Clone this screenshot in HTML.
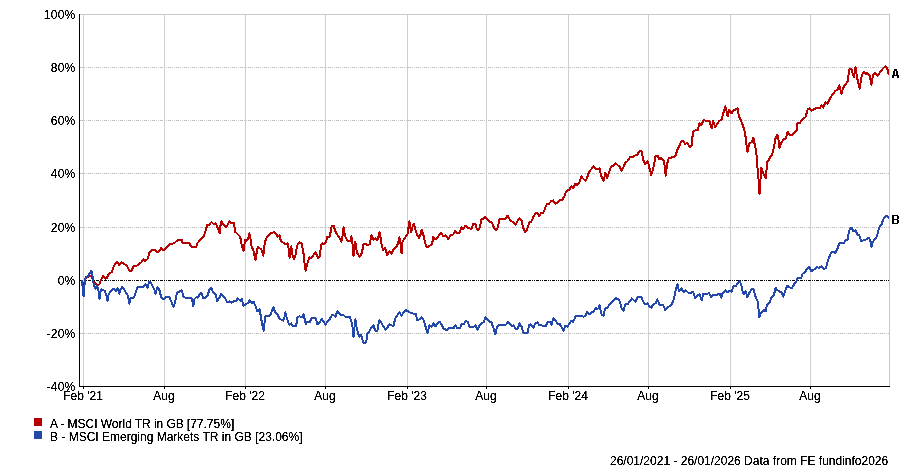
<!DOCTYPE html><html><head><meta charset="utf-8"><title>Chart</title><style>
html,body{margin:0;padding:0;background:#fff;}
body{width:900px;height:467px;position:relative;overflow:hidden;font-family:"Liberation Sans",sans-serif;font-size:12px;color:#000;}
.t{position:absolute;white-space:nowrap;line-height:14px;height:14px;}
.yl{left:0;width:75.6px;text-align:right;letter-spacing:0.3px;}
.xl{width:80px;text-align:center;top:389px;}
.sq{position:absolute;width:8px;height:8px;left:34px;}

</style></head><body>
<svg width="900" height="467" viewBox="0 0 900 467" style="position:absolute;left:0;top:0">
<g shape-rendering="crispEdges" fill="none">
<path d="M80 14.5H889.5V386" stroke="#c8c8c8" stroke-width="1"/>
<path d="M83.5 15V386" stroke="#cfcfcf" stroke-width="1"/>
<path d="M164.5 15V386" stroke="#cfcfcf" stroke-width="1"/>
<path d="M245.5 15V386" stroke="#cfcfcf" stroke-width="1"/>
<path d="M325.5 15V386" stroke="#cfcfcf" stroke-width="1"/>
<path d="M407.5 15V386" stroke="#cfcfcf" stroke-width="1"/>
<path d="M486.5 15V386" stroke="#cfcfcf" stroke-width="1"/>
<path d="M568.5 15V386" stroke="#cfcfcf" stroke-width="1"/>
<path d="M648.5 15V386" stroke="#cfcfcf" stroke-width="1"/>
<path d="M730.5 15V386" stroke="#cfcfcf" stroke-width="1"/>
<path d="M810.5 15V386" stroke="#cfcfcf" stroke-width="1"/>
<path d="M80 67.5H889" stroke="#c4c4c4" stroke-width="1" stroke-dasharray="3 1 1 1 1 1"/>
<path d="M80 120.5H889" stroke="#c4c4c4" stroke-width="1" stroke-dasharray="3 1 1 1 1 1"/>
<path d="M80 173.5H889" stroke="#c4c4c4" stroke-width="1" stroke-dasharray="3 1 1 1 1 1"/>
<path d="M80 227.5H889" stroke="#c4c4c4" stroke-width="1" stroke-dasharray="3 1 1 1 1 1"/>
<path d="M80 280.5H889" stroke="#000" stroke-width="1" stroke-dasharray="3 1 1 1 1 1"/>
<path d="M80 333.5H889" stroke="#c4c4c4" stroke-width="1" stroke-dasharray="3 1 1 1 1 1"/>
<path d="M79.5 14V387" stroke="#000" stroke-width="1"/>
<path d="M79 386.5H890" stroke="#000" stroke-width="1"/>
<path d="M83.5 387V389" stroke="#000" stroke-width="1"/>
<path d="M164.5 387V389" stroke="#000" stroke-width="1"/>
<path d="M245.5 387V389" stroke="#000" stroke-width="1"/>
<path d="M325.5 387V389" stroke="#000" stroke-width="1"/>
<path d="M407.5 387V389" stroke="#000" stroke-width="1"/>
<path d="M486.5 387V389" stroke="#000" stroke-width="1"/>
<path d="M568.5 387V389" stroke="#000" stroke-width="1"/>
<path d="M648.5 387V389" stroke="#000" stroke-width="1"/>
<path d="M730.5 387V389" stroke="#000" stroke-width="1"/>
<path d="M810.5 387V389" stroke="#000" stroke-width="1"/>
</g>
<polyline points="83.1,284.9 84.0,284.5 85.7,278.1 90.2,275.9 91.2,276.4 94.1,282.6 97.3,285.4 99.2,284.5 101.8,278.1 103.3,275.9 105.2,278.7 106.9,278.1 108.8,273.6 111.7,272.3 114.0,265.8 117.2,261.6 119.4,265.2 121.7,262.4 126.8,265.8 129.4,270.7 131.7,270.7 133.5,266.1 137.1,265.6 141.0,262.6 143.3,259.4 145.1,260.7 147.4,259.4 149.3,253.0 151.9,250.2 155.1,250.4 157.7,252.4 161.3,248.1 163.9,250.4 169.9,244.0 173.8,243.4 178.0,239.9 181.7,239.5 182.8,243.4 189.5,243.4 191.2,246.7 196.2,246.7 197.3,243.4 200.6,239.2 204.0,235.8 206.2,228.9 207.3,224.5 209.0,225.0 211.4,222.0 213.4,223.9 215.7,223.4 217.9,228.4 219.6,233.4 220.3,226.7 221.4,221.1 223.5,224.5 225.7,226.9 227.3,225.6 229.4,221.1 231.2,222.8 234.0,223.1 235.1,231.7 240.2,236.7 241.8,245.6 243.5,250.6 245.2,239.5 246.8,240.6 248.0,239.5 249.4,233.4 250.4,237.8 251.0,244.5 253.5,251.2 255.5,259.6 256.3,254.5 257.8,247.0 260.8,249.0 262.0,250.6 263.3,255.6 264.8,242.3 267.0,236.7 269.8,233.9 273.7,232.2 275.9,233.4 277.6,236.7 279.6,235.0 280.9,241.2 285.9,244.5 287.8,243.4 288.7,249.0 289.6,257.9 291.3,246.2 292.1,253.4 293.7,259.0 295.4,255.6 297.1,245.6 299.3,242.3 301.5,243.4 303.4,252.3 304.3,261.2 305.7,270.7 307.1,264.5 309.3,257.3 311.0,258.4 315.5,252.3 316.6,254.5 317.7,257.9 319.9,256.2 321.0,244.5 322.1,243.4 323.8,243.9 326.0,242.3 327.1,236.7 328.8,237.3 329.9,236.1 331.6,226.1 333.8,226.1 335.5,231.7 340.0,238.9 341.4,241.7 342.4,236.7 343.6,227.2 345.0,235.6 347.2,240.6 350.5,240.6 351.4,236.1 352.4,242.3 353.5,255.6 354.0,249.9 355.3,242.1 356.8,252.1 359.6,257.1 361.8,253.2 363.5,244.3 365.1,243.7 367.4,245.4 369.6,244.3 371.5,234.8 373.5,239.8 375.7,238.2 377.4,240.4 379.6,232.0 380.7,238.7 381.8,245.4 383.2,250.4 385.2,248.2 387.2,254.9 389.4,251.0 391.3,253.8 393.5,249.3 396.9,246.0 398.3,242.6 399.4,237.1 400.5,244.3 401.6,253.2 402.4,242.1 404.7,238.2 407.5,234.3 408.6,226.5 409.5,221.5 410.2,227.6 411.3,232.0 412.5,227.0 413.6,223.7 415.2,228.7 416.9,234.3 419.1,238.2 420.3,235.4 421.6,229.8 423.6,235.9 425.8,245.4 427.5,247.1 432.0,244.3 433.3,237.1 435.3,239.3 437.5,237.6 439.5,234.3 441.4,232.9 443.1,235.9 445.5,235.4 446.0,236.2 448.2,239.0 451.0,235.1 453.2,234.5 455.1,230.6 457.7,233.4 459.9,232.3 461.3,227.3 463.3,229.0 465.5,225.6 468.3,227.9 471.6,229.0 473.1,224.0 475.5,224.0 476.6,228.4 477.7,230.1 479.6,227.9 481.6,219.0 483.9,218.4 485.5,216.9 488.9,221.2 491.7,222.3 493.3,226.2 495.6,230.1 497.4,228.4 499.5,219.5 501.3,218.7 503.3,219.5 505.6,218.4 507.5,215.6 510.6,221.2 512.8,221.7 515.6,224.5 517.8,220.6 519.5,218.4 521.7,220.6 523.1,227.9 525.4,232.3 527.3,229.0 529.0,222.9 531.2,221.7 533.4,216.7 535.6,213.4 537.3,213.4 539.5,216.2 541.2,212.8 542.9,213.4 544.6,210.0 545.7,206.7 547.0,204.0 549.0,203.7 551.3,201.0 553.3,200.3 554.3,202.7 555.3,203.7 557.3,202.7 559.7,200.0 562.0,200.0 564.0,197.0 566.3,191.3 567.3,190.3 569.3,189.7 571.3,186.3 573.3,188.0 575.3,183.7 577.3,185.3 579.3,182.7 581.4,176.5 583.4,179.0 585.7,180.6 587.6,176.2 589.2,171.7 591.5,168.9 593.3,166.5 595.9,168.9 599.5,168.4 600.9,175.1 603.5,181.2 604.5,176.7 605.4,172.8 607.0,178.4 608.7,173.4 610.9,166.7 613.2,165.6 615.6,163.4 618.2,165.6 619.8,166.7 621.5,170.6 623.7,166.7 625.4,162.2 627.6,161.1 629.9,157.2 633.2,156.7 636.0,155.0 637.3,154.7 639.3,151.3 641.7,151.3 642.7,157.0 643.7,161.3 645.3,164.3 647.3,161.3 648.3,163.0 649.3,167.7 651.3,175.0 653.0,169.7 654.3,163.7 655.3,157.0 656.3,155.7 657.7,156.0 659.3,159.3 661.3,158.0 663.7,160.3 664.7,165.7 665.7,175.7 667.0,164.3 669.0,157.7 671.3,157.7 672.3,156.7 674.7,156.7 676.0,155.0 677.0,150.3 679.0,146.7 681.4,141.2 683.5,141.2 685.1,144.0 687.3,142.9 690.1,147.3 691.8,145.6 692.9,131.7 694.6,130.6 697.9,129.8 699.3,123.4 701.3,125.0 703.5,120.2 705.7,120.6 709.6,121.1 711.6,128.4 713.3,121.1 715.2,127.3 719.1,121.1 721.5,119.8 722.0,117.8 723.7,111.7 725.3,106.1 726.5,110.6 727.6,116.2 729.2,110.0 731.5,113.4 733.1,110.6 735.4,109.5 737.6,108.1 738.9,116.2 741.5,121.7 743.7,127.9 745.4,135.1 746.0,142.0 747.0,147.3 747.5,152.3 748.3,147.3 749.3,143.3 751.7,142.3 752.7,140.3 753.5,137.7 754.3,142.7 755.7,148.7 756.7,157.0 757.3,165.3 758.1,174.3 758.9,184.1 759.5,193.8 760.2,184.9 760.8,174.3 761.4,167.8 762.4,171.0 764.0,175.1 765.7,178.4 766.5,170.2 767.0,162.1 768.5,160.4 770.0,157.3 772.0,154.7 773.3,150.0 774.3,145.3 775.0,140.0 776.3,136.7 777.5,134.7 778.3,138.0 779.0,143.3 779.5,148.3 780.3,144.7 781.7,142.0 783.7,139.3 786.0,138.3 786.7,134.7 787.7,131.7 788.7,134.0 790.7,135.0 792.7,134.7 794.7,132.7 796.7,130.0 797.5,123.4 800.0,122.8 802.2,119.5 805.5,117.3 807.7,109.3 809.4,108.4 811.6,110.6 813.9,109.3 817.2,107.5 819.8,108.4 821.4,105.3 823.4,107.6 825.4,102.0 827.3,103.7 829.2,100.3 831.2,96.4 833.4,93.6 835.4,90.9 837.9,89.7 839.2,85.3 840.3,89.7 841.5,93.6 842.9,88.6 845.1,84.7 847.9,81.4 848.8,72.5 849.6,68.6 851.4,69.1 852.6,73.0 853.8,76.9 854.6,72.5 855.5,66.9 856.6,74.7 857.9,81.4 859.6,88.6 860.7,81.9 861.8,75.8 863.5,71.9 865.7,74.1 867.4,73.0 869.6,75.3 871.3,84.7 872.6,77.5 873.5,74.1 875.5,73.0 877.4,75.8 879.6,73.0 882.4,69.1 885.5,66.0 887.4,69.1 888.5,73.6" fill="none" stroke="#b60000" stroke-width="2" stroke-linejoin="round" stroke-linecap="round" shape-rendering="crispEdges"/>
<polyline points="81.9,280.4 82.5,285.4 83.6,296.5 84.1,288.7 85.6,277.0 87.5,276.5 91.4,270.9 92.3,273.1 93.0,280.9 94.7,287.1 95.8,288.7 96.9,285.9 97.8,287.6 98.6,291.0 99.5,298.7 100.3,292.1 101.4,289.3 104.7,291.0 106.4,295.4 107.5,301.0 108.6,294.3 110.3,291.5 113.6,288.9 115.9,291.0 117.5,288.5 118.6,291.0 119.4,293.7 120.5,289.3 122.0,287.1 123.7,288.2 125.9,292.6 128.1,296.0 129.4,303.8 130.3,299.3 131.7,297.6 133.1,298.2 134.2,296.5 135.9,292.1 137.8,286.5 143.1,286.7 145.4,284.3 147.6,287.6 149.3,281.5 150.2,281.5 152.1,285.4 154.3,289.3 155.6,293.7 157.3,287.4 159.3,289.8 161.0,296.5 162.1,298.7 164.3,298.7 166.0,297.1 169.3,297.1 171.5,302.1 173.5,307.1 174.9,303.2 176.6,294.3 178.0,291.5 179.5,291.7 181.5,290.0 183.4,296.2 185.6,298.1 191.2,297.8 192.3,300.6 193.4,306.2 194.5,298.9 196.2,297.3 197.8,297.8 199.5,294.5 201.2,292.8 203.4,298.4 205.6,297.8 207.9,295.0 209.2,289.5 211.4,287.8 212.9,292.3 215.7,294.5 217.3,301.2 219.6,297.3 221.4,293.9 224.6,297.3 227.3,302.3 229.6,301.5 231.2,302.6 234.0,301.2 236.8,300.6 237.6,298.2 240.2,300.6 241.8,298.9 243.5,305.6 246.3,304.2 248.5,302.3 249.6,300.1 251.8,302.8 253.7,301.7 255.7,306.7 257.4,311.2 259.6,309.5 260.8,316.2 262.2,324.5 263.6,330.6 264.8,320.6 265.6,315.9 270.0,315.6 271.7,311.7 273.4,307.2 275.0,311.7 277.8,315.0 279.7,318.9 283.4,320.6 284.5,316.7 285.4,312.3 286.5,316.7 288.4,322.8 289.7,324.8 291.2,323.4 292.9,326.0 296.2,326.0 297.3,317.3 299.5,316.2 301.8,317.3 303.4,314.2 304.6,318.9 305.7,324.0 307.3,321.7 309.6,322.3 311.8,318.2 315.7,318.2 317.4,324.5 319.6,322.8 321.6,318.9 323.5,321.2 325.5,324.8 327.4,321.7 329.6,319.5 331.8,315.3 333.5,315.0 335.4,316.7 337.4,311.1 340.2,314.5 343.5,315.0 345.2,316.7 349.7,316.7 351.5,321.9 352.8,328.1 353.5,337.0 354.2,329.2 355.4,319.2 356.5,327.0 358.1,333.6 359.5,337.0 360.9,335.3 362.0,337.5 363.1,342.5 366.2,342.5 367.3,333.6 369.3,331.4 371.3,327.5 373.5,325.3 375.1,330.3 377.3,331.4 378.4,324.2 379.5,320.3 381.5,323.1 383.7,327.0 385.8,329.7 387.6,327.5 389.3,324.2 391.5,325.3 393.5,326.4 395.1,318.6 397.1,315.8 399.3,312.3 401.6,315.6 403.6,312.3 405.8,310.0 408.2,311.4 411.0,313.0 413.8,313.8 415.8,314.1 417.4,320.3 419.4,319.2 421.6,317.2 423.8,320.3 425.5,326.4 427.4,333.1 429.4,325.3 431.6,327.0 433.6,323.4 435.5,326.4 437.4,323.1 439.7,321.9 441.7,324.7 443.3,328.6 445.6,329.4 447.0,330.3 449.5,327.9 453.9,327.9 455.4,325.1 456.9,327.9 460.0,327.9 461.7,324.2 463.9,324.0 465.8,321.2 467.8,321.7 469.5,326.7 473.4,327.0 475.6,325.3 477.5,330.1 479.0,326.2 481.2,323.4 483.7,322.3 485.4,317.3 487.9,319.7 489.6,321.5 491.4,322.3 493.2,327.3 495.3,334.5 496.8,327.3 499.0,324.5 502.4,324.8 506.3,324.5 507.6,321.7 509.6,324.0 511.8,326.2 513.5,325.3 515.7,329.0 518.0,328.4 519.3,323.4 521.8,326.7 523.0,332.6 527.4,332.9 529.1,325.1 530.4,324.2 533.5,327.9 535.2,323.4 537.4,322.3 539.1,324.8 540.0,324.8 541.5,325.1 543.1,326.2 545.9,326.0 547.6,322.0 549.6,321.7 551.5,324.5 553.4,318.4 555.4,320.1 557.8,324.2 559.6,323.8 561.8,327.3 563.5,331.2 565.2,325.6 567.4,326.8 569.3,324.0 571.2,320.9 573.0,321.7 574.1,320.1 575.4,316.2 577.7,316.0 581.6,316.0 583.8,316.7 585.5,315.3 587.3,311.7 589.3,314.5 591.6,312.3 593.6,311.7 595.5,307.8 597.1,308.9 598.5,308.4 599.6,305.0 600.5,310.1 601.6,314.5 603.5,315.6 604.9,308.9 607.2,307.8 610.0,303.9 612.7,301.1 615.7,298.1 618.3,299.5 620.0,301.7 621.3,307.8 623.5,310.6 625.3,304.5 627.8,303.9 630.0,301.1 632.0,298.4 633.5,300.1 635.4,301.7 637.9,296.7 641.3,296.7 643.5,302.3 645.7,304.5 647.6,303.4 649.4,306.5 651.3,307.6 653.5,304.0 655.7,303.4 657.4,299.5 659.4,304.5 663.0,305.1 665.4,310.1 666.9,307.9 669.7,306.2 671.9,304.0 673.9,299.0 675.4,291.2 677.5,284.5 679.1,291.2 681.3,288.4 683.6,292.3 685.5,290.0 688.4,292.8 690.8,292.8 693.0,291.7 695.3,298.4 697.5,295.4 699.5,294.5 701.6,300.3 703.3,293.9 709.2,293.4 711.4,297.3 713.3,294.5 715.3,295.4 718.1,294.3 719.8,293.6 721.4,297.8 722.6,292.8 724.0,292.3 725.5,290.0 727.7,292.3 729.9,290.6 731.6,291.7 733.3,286.5 736.0,285.8 738.3,282.2 739.6,281.1 741.1,284.5 742.7,291.7 743.8,293.9 745.5,291.2 747.5,297.3 749.4,292.8 751.6,288.9 753.6,289.2 755.5,296.7 757.8,301.7 758.5,309.0 759.4,317.3 760.5,313.4 763.9,310.1 765.6,311.4 767.0,305.1 770.0,301.7 771.3,297.6 773.9,295.1 775.6,287.6 777.2,290.0 780.0,291.7 781.7,292.8 783.4,296.7 785.0,291.2 787.3,285.6 789.5,287.3 791.7,288.4 794.0,284.5 796.2,281.7 797.8,278.0 801.2,277.8 802.5,273.9 805.0,272.3 807.5,268.1 809.2,266.8 811.4,271.4 814.2,269.4 816.7,267.3 819.2,267.8 821.4,266.4 823.7,269.4 825.9,268.1 827.5,262.3 829.2,257.2 831.4,252.2 833.4,251.7 835.4,253.4 837.6,248.1 839.2,243.4 841.7,242.7 843.7,243.4 845.4,240.6 847.6,239.4 848.7,233.0 850.1,228.4 851.8,228.0 853.4,231.4 855.4,230.5 857.6,234.7 859.3,235.5 861.4,241.4 864.3,239.7 866.8,239.4 868.8,237.7 870.5,241.4 871.5,246.7 872.6,242.2 875.1,238.9 877.1,236.4 878.5,229.7 879.8,226.0 881.5,224.4 883.1,219.7 885.1,216.7 886.8,215.5 888.5,217.7" fill="none" stroke="#2447aa" stroke-width="2" stroke-linejoin="round" stroke-linecap="round" shape-rendering="crispEdges"/>
<path d="M894 69h3v1h-3zM894 70h3v1h-3zM893 71h2v1h-2zM896 71h2v1h-2zM893 72h2v1h-2zM896 72h2v1h-2zM893 73h2v1h-2zM896 73h2v1h-2zM893 74h2v1h-2zM896 74h2v1h-2zM892 75h7v1h-7zM892 76h2v1h-2zM897 76h2v1h-2zM892 77h2v1h-2zM897 77h2v1h-2z" fill="#000" shape-rendering="crispEdges"/>
<path d="M892 215h6v1h-6zM892 216h2v1h-2zM897 216h2v1h-2zM892 217h2v1h-2zM897 217h2v1h-2zM892 218h2v1h-2zM897 218h2v1h-2zM892 219h6v1h-6zM892 220h2v1h-2zM897 220h2v1h-2zM892 221h2v1h-2zM897 221h2v1h-2zM892 222h2v1h-2zM897 222h2v1h-2zM892 223h6v1h-6z" fill="#000" shape-rendering="crispEdges"/>
<defs><filter id="bin" x="0" y="0" width="100%" height="100%" color-interpolation-filters="sRGB"><feComponentTransfer><feFuncA type="table" tableValues="0 0.05 0.95 1 1"/></feComponentTransfer></filter></defs>
</svg>
<div id="txt" style="position:absolute;left:0;top:0;width:900px;height:467px;filter:url(#bin)">
<div class="t yl" style="top:8px">100%</div>
<div class="t yl" style="top:61px">80%</div>
<div class="t yl" style="top:114px">60%</div>
<div class="t yl" style="top:167px">40%</div>
<div class="t yl" style="top:221px">20%</div>
<div class="t yl" style="top:274px">0%</div>
<div class="t yl" style="top:327px">-20%</div>
<div class="t yl" style="top:380px">-40%</div>
<div class="t xl" style="left:43px">Feb '21</div>
<div class="t xl" style="left:124px">Aug</div>
<div class="t xl" style="left:205px">Feb '22</div>
<div class="t xl" style="left:285px">Aug</div>
<div class="t xl" style="left:367px">Feb '23</div>
<div class="t xl" style="left:446px">Aug</div>
<div class="t xl" style="left:528px">Feb '24</div>
<div class="t xl" style="left:608px">Aug</div>
<div class="t xl" style="left:690px">Feb '25</div>
<div class="t xl" style="left:770px">Aug</div>
<div class="sq" style="top:418px;background:#b60000"></div>
<div class="sq" style="top:431px;background:#2447aa"></div>
<div class="t" style="left:50px;top:417px;word-spacing:-0.2px">A - MSCI World TR in GB [77.75%]</div>
<div class="t" style="left:50px;top:430px">B - MSCI Emerging Markets TR in GB [23.06%]</div>
<div class="t" style="left:610px;top:454px">26/01/2021 - 26/01/2026 Data from FE fundinfo2026</div>
</div>
</body></html>
